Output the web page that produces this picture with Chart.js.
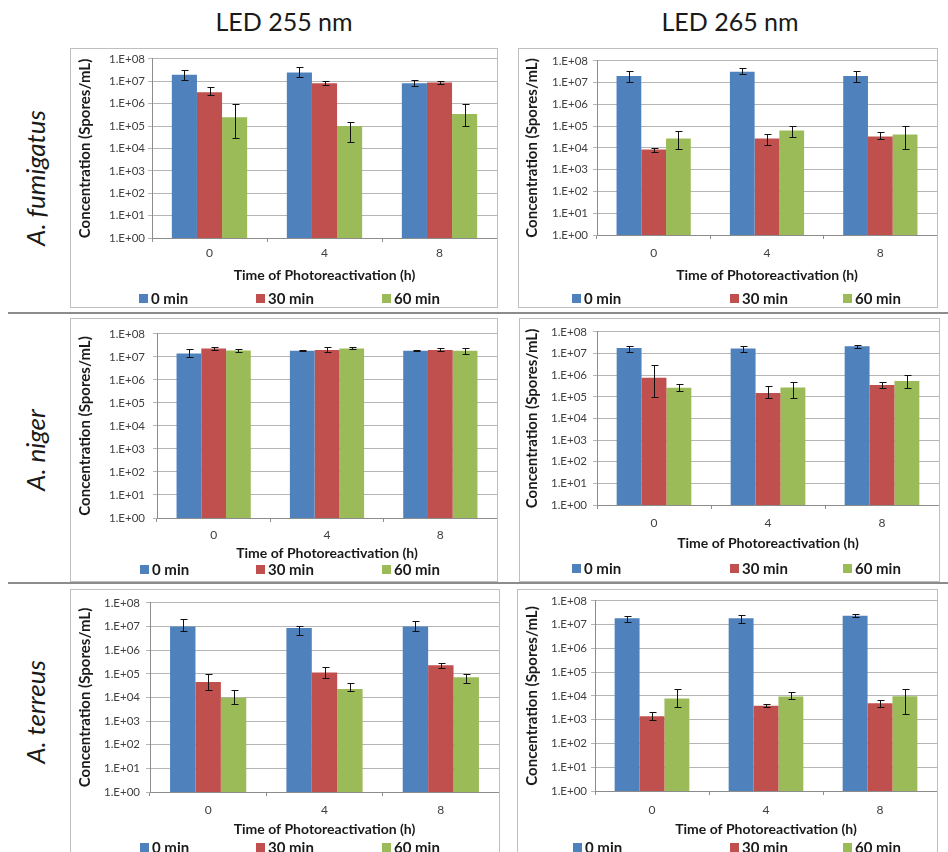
<!DOCTYPE html>
<html>
<head>
<meta charset="utf-8">
<script src="https://cdn.jsdelivr.net/npm/chart.js@4.4.0/dist/chart.umd.min.js"></script>
<style>
  body { margin: 0; background: #fff; width: 948px; height: 852px; position: relative; overflow: hidden; font-family: Lato, "Open Sans", sans-serif; }
  .head { position: absolute; top: 6px; width: 300px; text-align: center; font-size: 25px; color: #1a1a1a; }
  .species { position: absolute; width: 220px; height: 34px; line-height: 34px; text-align: center; font-size: 26px; font-style: italic; color: #1a1a1a; transform: rotate(-90deg); white-space: nowrap; }
  .panel { position: absolute; border: 1px solid #bfbfbf; box-sizing: border-box; background: #fff; }
  .panel canvas { position: absolute; left: 0; top: 0; }
  .rule { position: absolute; left: 8px; width: 940px; height: 2px; background: #8c8c8c; }
</style>
</head>
<body>
<div class="head" style="left:134px">LED 255 nm</div>
<div class="head" style="left:580px">LED 265 nm</div>
<div class="rule" style="top:312px"></div>
<div class="rule" style="top:582px"></div>
<script>
const hours = ['0', '4', '8'];
const exposures = ['0 min', '30 min', '60 min'];
const barColors = ['#4f81bd', '#c0504d', '#9bbb59'];
const yTickLabels = ['1.E+00', '1.E+01', '1.E+02', '1.E+03', '1.E+04', '1.E+05', '1.E+06', '1.E+07', '1.E+08'];
const xTitle = 'Time of Photoreactivation (h)';
const yTitle = 'Concentration (Spores/mL)';

// rows: 0 / 30 / 60 min exposure; columns: 0 / 4 / 8 h photoreactivation
const fum255Mean = [[1.95e7, 2.5e7, 8.1e6], [3.2e6, 8.1e6, 8.9e6], [2.5e5, 1.0e5, 3.5e5]];
const fum255Low  = [[1.2e7, 1.5e7, 5.9e6], [2.5e6, 7.0e6, 7.6e6], [2.8e4, 2.0e4, 1.0e5]];
const fum255High = [[3.2e7, 4.2e7, 1.1e7], [5.4e6, 1.0e7, 1.05e7], [1.0e6, 1.5e5, 1.0e6]];

const fum265Mean = [[2.0e7, 3.2e7, 2.0e7], [8.5e3, 2.7e4, 3.4e4], [2.7e4, 6.3e4, 4.1e4]];
const fum265Low  = [[1.1e7, 2.4e7, 1.1e7], [6.8e3, 1.35e4, 2.7e4], [9.0e3, 3.2e4, 9.0e3]];
const fum265High = [[3.3e7, 4.5e7, 3.3e7], [1.0e4, 4.2e4, 5.3e4], [6.3e4, 1.07e5, 1.07e5]];

const nig255Mean = [[1.4e7, 1.85e7, 1.85e7], [2.3e7, 2.0e7, 2.0e7], [1.9e7, 2.3e7, 1.85e7]];
const nig255Low  = [[9.8e6, 1.75e7, 1.75e7], [2.0e7, 1.7e7, 1.8e7], [1.7e7, 2.1e7, 1.4e7]];
const nig255High = [[2.1e7, 1.95e7, 1.95e7], [2.7e7, 2.7e7, 2.5e7], [2.1e7, 2.6e7, 2.4e7]];

const nig265Mean = [[1.8e7, 1.7e7, 2.2e7], [7.6e5, 1.5e5, 3.5e5], [2.6e5, 2.7e5, 5.4e5]];
const nig265Low  = [[1.2e7, 1.2e7, 1.85e7], [9.8e4, 9.0e4, 2.6e5], [1.8e5, 9.0e4, 2.6e5]];
const nig265High = [[2.3e7, 2.3e7, 2.6e7], [3.0e6, 3.0e5, 5.0e5], [3.9e5, 5.0e5, 9.8e5]];

const ter255Mean = [[1.0e7, 8.7e6, 1.0e7], [4.5e4, 1.15e5, 2.3e5], [9.7e3, 2.3e4, 7.1e4]];
const ter255Low  = [[6.3e6, 4.3e6, 6.3e6], [2.1e4, 6.9e4, 1.8e5], [5.2e3, 1.8e4, 4.0e4]];
const ter255High = [[2.05e7, 1.1e7, 1.65e7], [9.8e4, 1.95e5, 2.95e5], [2.0e4, 4.0e4, 9.8e4]];

const ter265Mean = [[1.86e7, 1.86e7, 2.4e7], [1.4e3, 3.9e3, 4.9e3], [7.9e3, 9.5e3, 9.6e3]];
const ter265Low  = [[1.26e7, 1.2e7, 2.05e7], [1.0e3, 3.3e3, 3.5e3], [3.5e3, 7.4e3, 1.8e3]];
const ter265High = [[2.3e7, 2.6e7, 2.7e7], [2.1e3, 4.8e3, 6.8e3], [1.9e4, 1.5e4, 2.0e4]];

const species = [
  { name: 'A. fumigatus', cy: 178 },
  { name: 'A. niger', cy: 450 },
  { name: 'A. terreus', cy: 712 }
];

// box = [left, top, width, height] of the framed chart; the rest is spacing inside it
const panels = [
  { mean: fum255Mean, low: fum255Low, high: fum255High, box: [70, 48, 428, 260],
    axisW: 81, padTop: 8, xAxisH: 69, yTitlePad: 5, yTickPad: 3, xTickPad: 4, xTitlePad: 23, legendX: [68, 185, 311], legendY: 249 },
  { mean: fum265Mean, low: fum265Low, high: fum265High, box: [518, 48, 420, 260],
    axisW: 78, padTop: 8, xAxisH: 72, yTitlePad: 4, yTickPad: 5, xTickPad: 7, xTitlePad: 23, legendX: [53, 211, 324], legendY: 249 },
  { mean: nig255Mean, low: nig255Low, high: nig255High, box: [70, 318, 428, 264],
    axisW: 86, padTop: 9, xAxisH: 63, yTitlePad: 5, yTickPad: 8, xTickPad: 6, xTitlePad: 19, legendX: [69, 185, 311], legendY: 250 },
  { mean: nig265Mean, low: nig265Low, high: nig265High, box: [519, 318, 421, 264],
    axisW: 77, padTop: 7, xAxisH: 76, yTitlePad: 3, yTickPad: 6, xTickPad: 7, xTitlePad: 29, legendX: [52, 210, 323], legendY: 249 },
  { mean: ter255Mean, low: ter255Low, high: ter255High, box: [70, 589, 430, 268],
    axisW: 79, padTop: 8, xAxisH: 64, yTitlePad: 5, yTickPad: 6, xTickPad: 7, xTitlePad: 18, legendX: [69, 185, 311], legendY: 257 },
  { mean: ter265Mean, low: ter265Low, high: ter265High, box: [517, 589, 421, 268],
    axisW: 77, padTop: 7, xAxisH: 65, yTitlePad: 5, yTickPad: 4, xTickPad: 8, xTitlePad: 18, legendX: [55, 212, 325], legendY: 257 }
];

// vertical error bars with caps, from each dataset's errLow / errHigh
const errorBars = {
  id: 'errorBars',
  afterDatasetsDraw(chart) {
    const ctx = chart.ctx;
    const y = chart.scales.y;
    ctx.save();
    ctx.strokeStyle = '#111';
    ctx.lineWidth = 1;
    chart.data.datasets.forEach((ds, i) => {
      chart.getDatasetMeta(i).data.forEach((bar, j) => {
        const x = Math.round(bar.x) + 0.5;
        const top = Math.round(y.getPixelForValue(ds.errHigh[j])) + 0.5;
        const bot = Math.round(y.getPixelForValue(ds.errLow[j])) + 0.5;
        ctx.beginPath();
        ctx.moveTo(x, top); ctx.lineTo(x, bot);
        ctx.moveTo(x - 3, top); ctx.lineTo(x + 4, top);
        ctx.moveTo(x - 3, bot); ctx.lineTo(x + 4, bot);
        ctx.stroke();
      });
    });
    ctx.restore();
  }
};

// legend entries spread across the bottom of the frame
const spreadLegend = {
  id: 'spreadLegend',
  afterDraw(chart, args, opts) {
    const ctx = chart.ctx;
    ctx.save();
    ctx.font = 'bold 15px Lato, sans-serif';
    ctx.textBaseline = 'middle';
    chart.data.datasets.forEach((ds, i) => {
      const x = opts.x[i];
      ctx.fillStyle = ds.backgroundColor;
      ctx.fillRect(x, opts.y - 4, 9, 9);
      ctx.fillStyle = '#1a1a1a';
      ctx.fillText(ds.label, x + 12, opts.y + 1);
    });
    ctx.restore();
  }
};

species.forEach(s => {
  const d = document.createElement('div');
  d.className = 'species';
  d.textContent = s.name;
  d.style.left = (35 - 110) + 'px';
  d.style.top = (s.cy - 17) + 'px';
  document.body.appendChild(d);
});

panels.forEach(p => {
  const [left, top, w, h] = p.box;
  const frame = document.createElement('div');
  frame.className = 'panel';
  frame.style.left = left + 'px';
  frame.style.top = top + 'px';
  frame.style.width = w + 'px';
  frame.style.height = h + 'px';
  const canvas = document.createElement('canvas');
  canvas.width = w - 2;
  canvas.height = h - 2;
  frame.appendChild(canvas);
  document.body.appendChild(frame);

  new Chart(canvas, {
    type: 'bar',
    data: {
      labels: hours,
      datasets: exposures.map((label, i) => ({
        label: label,
        data: p.mean[i],
        errLow: p.low[i],
        errHigh: p.high[i],
        backgroundColor: barColors[i],
        borderWidth: 0,
        categoryPercentage: 0.655,
        barPercentage: 1
      }))
    },
    plugins: [errorBars, spreadLegend],
    options: {
      responsive: false,
      animation: false,
      layout: { padding: { top: p.padTop, left: 0, right: 0, bottom: 0 } },
      plugins: {
        legend: { display: false },
        tooltip: { enabled: false },
        spreadLegend: { x: p.legendX, y: p.legendY }
      },
      scales: {
        x: {
          afterFit: scale => { scale.height = p.xAxisH; },
          grid: { display: true, drawOnChartArea: false, drawTicks: true, tickLength: 4, color: '#8c8c8c' },
          border: { display: true, color: '#8c8c8c' },
          ticks: { color: '#404040', padding: p.xTickPad, font: { family: 'Lato', size: 12 } },
          title: { display: true, text: xTitle, color: '#1a1a1a', padding: { top: 0, bottom: p.xTitlePad }, font: { family: 'Lato', size: 14, weight: 'bold' } }
        },
        y: {
          type: 'logarithmic',
          min: 1,
          max: 1e8,
          afterFit: scale => { scale.width = p.axisW; },
          afterBuildTicks: scale => {
            scale.ticks = yTickLabels.map((t, i) => ({ value: Math.pow(10, i) }));
          },
          grid: { color: '#b5b5b5', drawTicks: true, tickLength: 4 },
          border: { display: true, color: '#8c8c8c' },
          ticks: {
            autoSkip: false,
            color: '#404040',
            padding: p.yTickPad,
            font: { family: 'Lato', size: 11.5 },
            callback: value => yTickLabels[Math.round(Math.log10(value))]
          },
          title: { display: true, text: yTitle, color: '#1a1a1a', padding: { top: p.yTitlePad, bottom: 0 }, font: { family: 'Lato', size: 15, weight: 'bold' } }
        }
      }
    }
  });
});
</script>
</body>
</html>
